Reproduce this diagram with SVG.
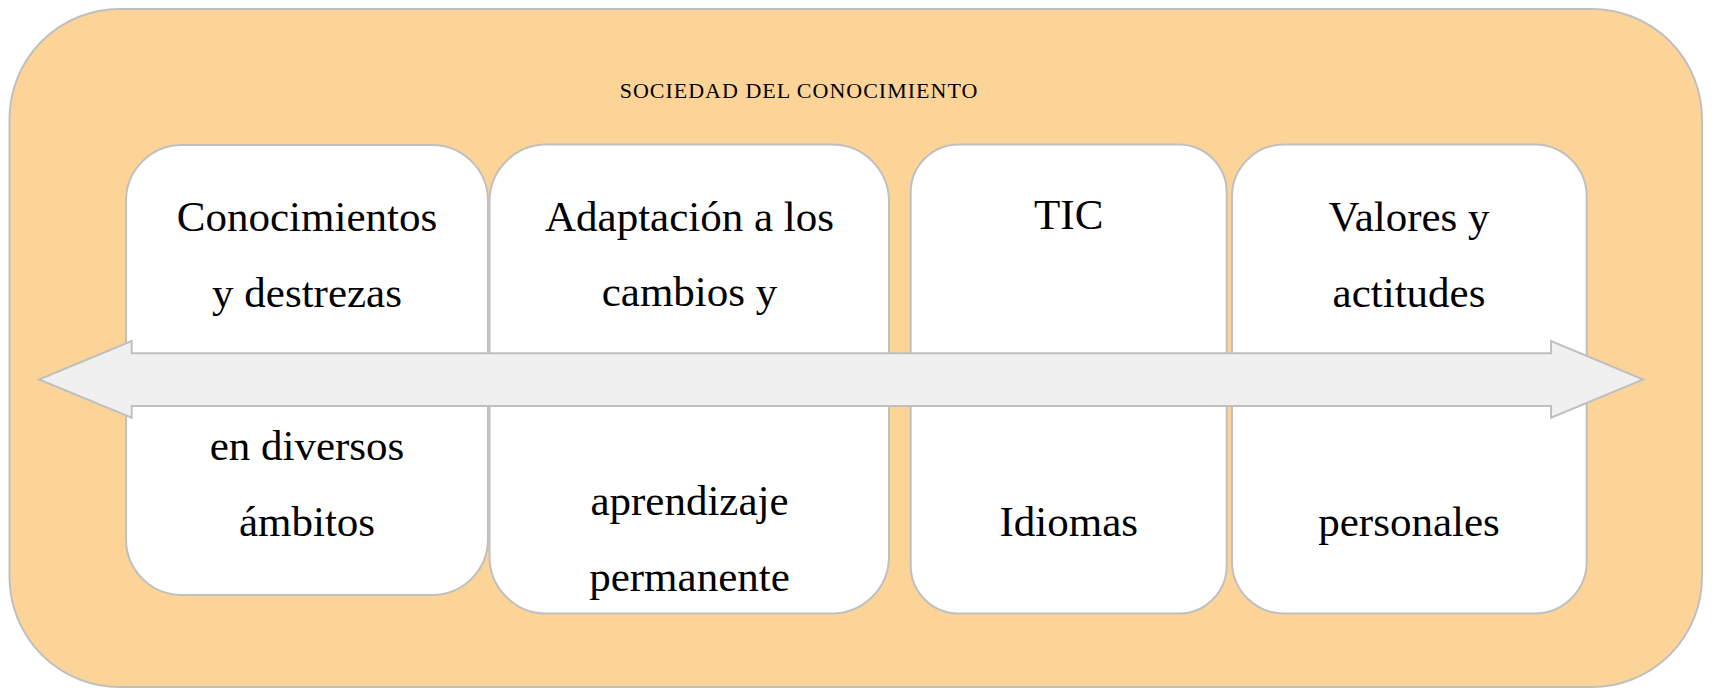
<svg xmlns="http://www.w3.org/2000/svg" width="1712" height="688" viewBox="0 0 1712 688">
<style>
.outer{fill:#fdd498;stroke:#c0c0c0;stroke-width:2}
.box{fill:#ffffff;stroke:#c0c0c0;stroke-width:2}
.arrow{fill:#f0f0f0;stroke:#c0c0c0;stroke-width:2}
.t{font-family:"Liberation Serif","Times New Roman",serif;font-size:43px;fill:#000;text-anchor:middle}
.title{font-family:"Liberation Serif","Times New Roman",serif;font-size:22px;letter-spacing:1px;fill:#000;text-anchor:middle}
</style>
<g id="container">
<rect class="outer" x="9.5" y="9" width="1692.5" height="678" rx="110" ry="110"/>
<text class="title" x="799" y="98">SOCIEDAD DEL CONOCIMIENTO</text>
</g>
<g id="node1">
<rect class="box" x="126" y="145" width="362" height="450" rx="56" ry="56"/>
<text class="t" x="307" y="231">Conocimientos</text>
<text class="t" x="307" y="307">y destrezas</text>
<text class="t" x="307" y="460">en diversos</text>
<text class="t" x="307" y="536">ámbitos</text>
</g>
<g id="node2">
<rect class="box" x="489.5" y="144.5" width="399.5" height="469" rx="57" ry="57"/>
<text class="t" x="689.5" y="231">Adaptación a los</text>
<text class="t" x="689.5" y="306">cambios y</text>
<text class="t" x="689.5" y="515">aprendizaje</text>
<text class="t" x="689.5" y="591">permanente</text>
</g>
<g id="node3">
<rect class="box" x="910.7" y="144.5" width="316" height="469" rx="48" ry="48"/>
<text class="t" x="1068.7" y="229">TIC</text>
<text class="t" x="1068.7" y="536">Idiomas</text>
</g>
<g id="node4">
<rect class="box" x="1232" y="144.5" width="354.7" height="469" rx="52" ry="52"/>
<text class="t" x="1409" y="231">Valores y</text>
<text class="t" x="1409" y="307">actitudes</text>
<text class="t" x="1409" y="536">personales</text>
</g>
<g id="connectors">
<polygon class="arrow" points="39,379.5 131.7,341 131.7,353.3 1551,353.3 1551,341 1643.3,379.5 1551,417.7 1551,406 131.7,406 131.7,417.7"/>
</g>
</svg>
